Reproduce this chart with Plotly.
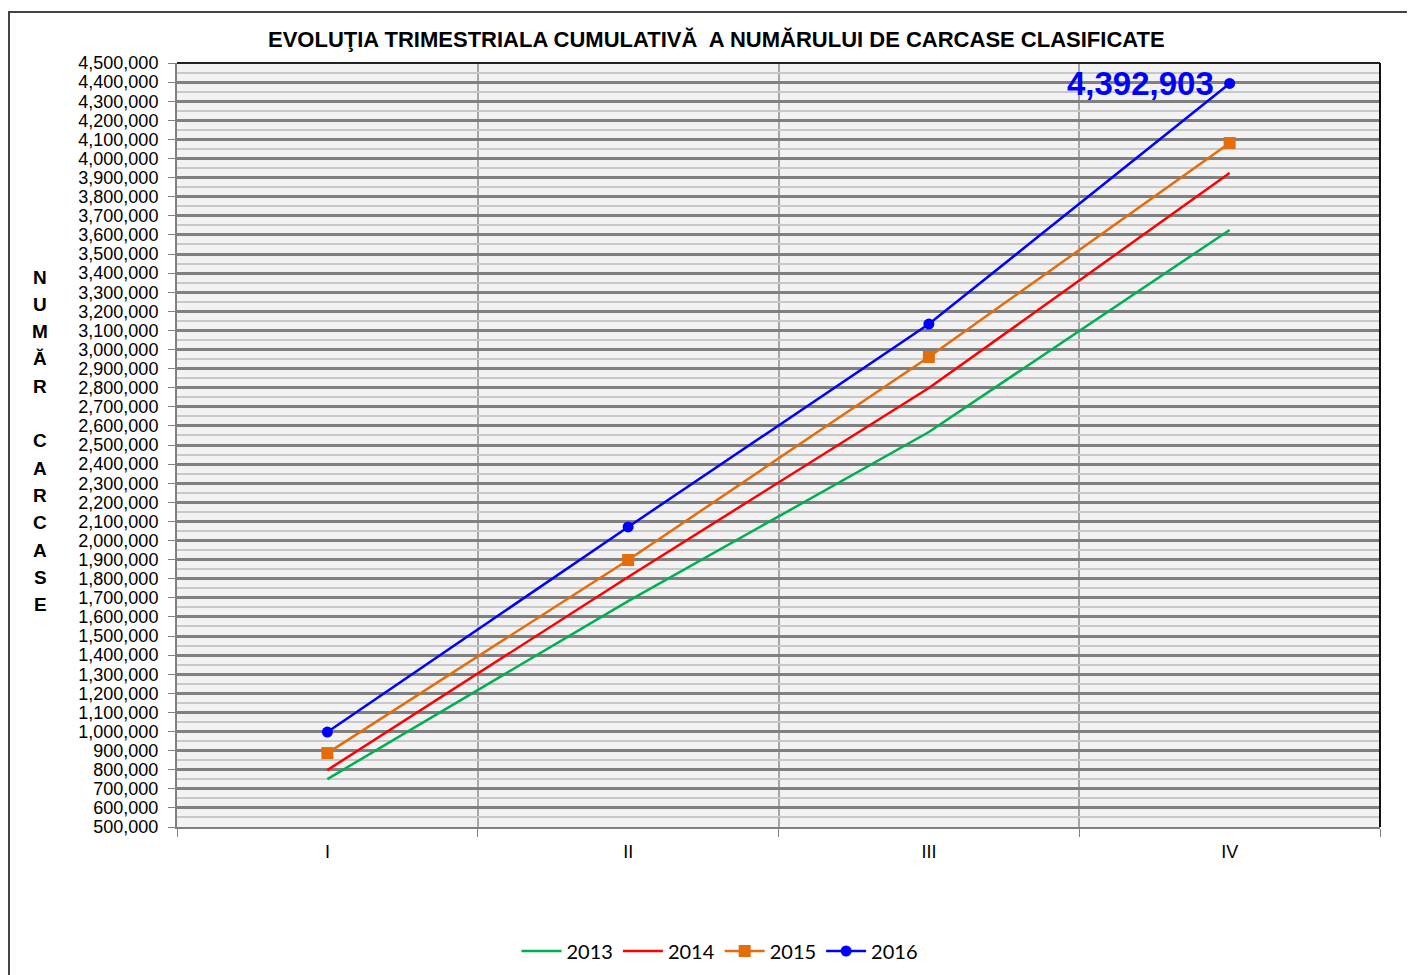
import plotly.graph_objects as go

quarters = ["I", "II", "III", "IV"]
y2013 = [751000, 1683000, 2568000, 3626000]
y2014 = [798000, 1809000, 2798000, 3924000]
y2015 = [887000, 1898000, 2961000, 4081000]
y2016 = [997000, 2071000, 3133000, 4392903]
years = ["2013", "2014", "2015", "2016"]
colors = ["#00B050", "#FF0000", "#E46C0A", "#0000FF"]
symbols = [None, None, "square", "circle"]
ytitle_letters = ["N", "U", "M", "Ă", "R", "", "C", "A", "R", "C", "A", "S", "E"]

OFF = 8  # page offset of the figure in the browser
W, H = 1415, 975
L = 177 - OFF
T = 63 - OFF
pw, ph = 1203, 764
R = W - L - pw
B = H - T - ph

def px_x(p):
    return (p - OFF - L) / pw

def px_y(p):
    return (T + ph - (p - OFF)) / ph

xs = list(range(len(quarters)))
fig = go.Figure()
for name, ys, c, s in zip(years, [y2013, y2014, y2015, y2016], colors, symbols):
    if s:
        fig.add_trace(go.Scatter(x=xs, y=ys, name=name, mode="lines+markers",
                                 line=dict(color=c, width=2.5),
                                 marker=dict(symbol=s, size=11 if s == "circle" else 12, color=c)))
    else:
        fig.add_trace(go.Scatter(x=xs, y=ys, name=name, mode="lines",
                                 line=dict(color=c, width=2.5)))

annotations = [
    dict(x=3, y=y2016[3], xref="x", yref="y", text="<b>4,392,903</b>", showarrow=False,
         xanchor="right", yanchor="middle", xshift=-14, yshift=0,
         font=dict(family="Liberation Sans, Arial", size=33, color="#0000FF")),
    dict(x=px_x(716), y=px_y(39), xref="paper", yref="paper",
         text="<b>EVOLUŢIA TRIMESTRIALA CUMULATIVĂ  A NUMĂRULUI DE CARCASE CLASIFICATE</b>",
         showarrow=False, xanchor="center", yanchor="middle",
         font=dict(family="Liberation Sans, Arial", size=22, color="#000000")),
]
y0 = 277
for i, ch in enumerate(ytitle_letters):
    if ch:
        annotations.append(dict(x=px_x(40), y=px_y(y0 + i * 27.3), xref="paper", yref="paper",
                                text="<b>" + ch + "</b>", showarrow=False,
                                xanchor="center", yanchor="middle",
                                font=dict(family="Liberation Sans, Arial", size=19, color="#000000")))

shapes = [
    dict(type="rect", xref="paper", yref="paper", x0=px_x(9), x1=px_x(1440), y0=px_y(1010), y1=px_y(12),
         line=dict(color="#444444", width=2), fillcolor="rgba(0,0,0,0)", layer="below"),
    dict(type="line", xref="paper", yref="paper", x0=0, x1=1, y0=1, y1=1, line=dict(color="#222222", width=2)),
    dict(type="line", xref="paper", yref="paper", x0=1, x1=1, y0=0, y1=1, line=dict(color="#111111", width=2)),
]

fig.update_layout(
    width=W, height=H,
    margin=dict(l=L, r=R, t=T, b=B),
    paper_bgcolor="white", plot_bgcolor="#F2F2F2",
    showlegend=True,
    legend=dict(orientation="h", x=px_x(720), xanchor="center",
                y=px_y(951), yanchor="middle",
                font=dict(family="Lato, Open Sans", size=20, color="#000000"),
                traceorder="normal", itemwidth=40),
    xaxis=dict(range=[-0.5, 3.5], tickvals=xs, ticktext=quarters, ticks="", showgrid=False,
               zeroline=False, showline=True, linecolor="#808080", linewidth=2,
               tickfont=dict(family="Liberation Sans, Arial", size=18, color="#000000"),
               ticklabelstandoff=7,
               minor=dict(tick0=-0.5, dtick=1, ticks="outside", ticklen=8, tickcolor="#808080",
                          showgrid=True, gridcolor="#A6A6A6", gridwidth=1.5)),
    yaxis=dict(range=[500000, 4500000], dtick=100000, tick0=500000, tickformat=",d",
               showgrid=True, gridcolor="#808080", gridwidth=3, zeroline=False,
               showline=True, linecolor="#808080", linewidth=2,
               ticks="outside", ticklen=7, tickcolor="#808080",
               ticklabelstandoff=6,
               tickfont=dict(family="Liberation Sans Narrow, Liberation Sans, Arial", size=18, color="#000000"),
               minor=dict(dtick=50000, showgrid=True, gridcolor="#C8C8C8", gridwidth=2)),
    annotations=annotations,
    shapes=shapes,
)

fig.write_html("out.html")
